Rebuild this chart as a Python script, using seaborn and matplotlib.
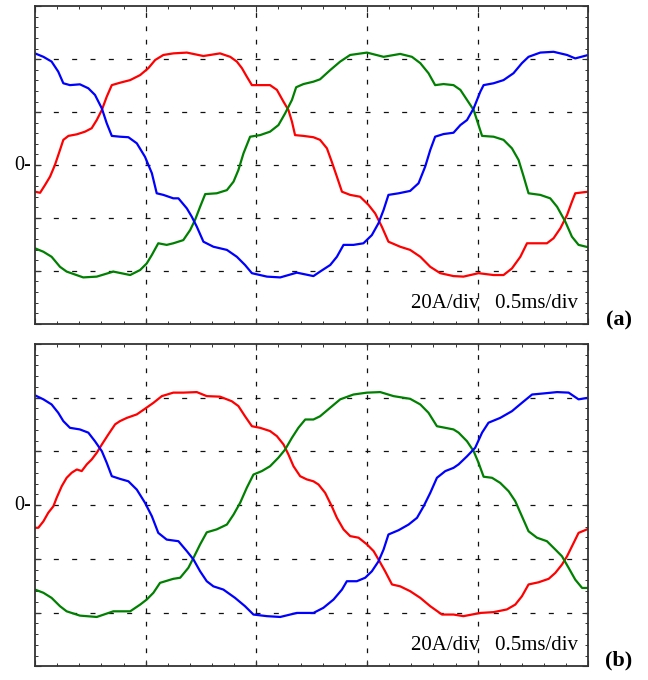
import numpy as np
import pandas as pd
import matplotlib
matplotlib.use("Agg")
import matplotlib.pyplot as plt
from matplotlib.ticker import MultipleLocator, NullFormatter
import seaborn as sns

# ---------------- data (time in ms, current in A) ----------------
TIME_DIV = 0.5      # ms / div
AMP_DIV = 20        # A / div

red_a = [(0, -10.1), (0.023, -10.5), (0.045, -7.6), (0.068, -4.4), (0.090, 0.0), (0.113, 5.7),
         (0.128, 9.5), (0.151, 11.0), (0.189, 11.6), (0.226, 12.6), (0.256, 13.9), (0.279, 17.0),
         (0.302, 20.8), (0.324, 25.8), (0.347, 30.2), (0.384, 31.1), (0.430, 32.1), (0.475, 34.0),
         (0.512, 36.6), (0.543, 39.7), (0.580, 41.6), (0.625, 42.2), (0.686, 42.5), (0.761, 41.2),
         (0.836, 42.2), (0.882, 40.9), (0.912, 39.1), (0.935, 36.6), (0.957, 33.4), (0.980, 30.2),
         (1.017, 30.2), (1.062, 30.2), (1.093, 28.4), (1.123, 23.9), (1.145, 20.8), (1.161, 16.4),
         (1.175, 11.3), (1.213, 11.0), (1.258, 10.5), (1.288, 9.5), (1.319, 6.3), (1.341, 1.2),
         (1.364, -4.4), (1.387, -10.1), (1.424, -11.3), (1.469, -12.0), (1.507, -15.1), (1.537, -18.3),
         (1.567, -23.3), (1.597, -29.0), (1.650, -30.9), (1.695, -32.1), (1.741, -34.7), (1.786, -38.5),
         (1.831, -40.9), (1.891, -42.0), (1.936, -42.2), (2.004, -40.9), (2.072, -41.6), (2.117, -41.6),
         (2.155, -39.1), (2.193, -34.7), (2.223, -29.6), (2.268, -29.6), (2.313, -29.6), (2.343, -27.7),
         (2.374, -23.9), (2.404, -18.9), (2.426, -13.9), (2.441, -10.7), (2.479, -10.3), (2.5, -10.1)]

blue_a = [(0, 42.2), (0.038, 40.9), (0.075, 39.1), (0.105, 35.3), (0.128, 30.9), (0.158, 30.2),
          (0.203, 30.5), (0.241, 29.0), (0.271, 26.5), (0.302, 21.4), (0.324, 15.8), (0.347, 11.0),
          (0.384, 10.7), (0.422, 10.5), (0.460, 8.2), (0.497, 3.1), (0.528, -3.1), (0.550, -10.7),
          (0.580, -11.3), (0.625, -12.6), (0.648, -12.6), (0.686, -16.4), (0.708, -19.5), (0.731, -23.3),
          (0.761, -29.0), (0.806, -30.9), (0.867, -32.1), (0.912, -34.7), (0.949, -37.8), (0.980, -40.9),
          (1.048, -42.2), (1.108, -42.5), (1.183, -40.7), (1.258, -42.0), (1.288, -40.3), (1.334, -37.8),
          (1.364, -34.7), (1.394, -30.2), (1.439, -30.2), (1.484, -29.6), (1.522, -26.5), (1.552, -22.0),
          (1.575, -17.0), (1.597, -11.3), (1.643, -10.7), (1.695, -9.8), (1.733, -6.9), (1.763, -0.6),
          (1.786, 5.7), (1.808, 10.7), (1.846, 11.7), (1.891, 12.2), (1.922, 15.1), (1.952, 17.0),
          (1.982, 21.4), (2.012, 27.7), (2.027, 30.2), (2.072, 30.9), (2.117, 32.1), (2.162, 34.7),
          (2.200, 38.5), (2.230, 40.9), (2.283, 42.5), (2.343, 42.8), (2.404, 41.6), (2.441, 40.3),
          (2.5, 41.6)]

green_a = [(0, -31.5), (0.038, -32.8), (0.075, -34.7), (0.113, -38.5), (0.143, -40.3), (0.218, -42.5),
           (0.279, -42.2), (0.354, -40.3), (0.430, -41.6), (0.475, -39.7), (0.505, -37.2), (0.528, -34.0),
           (0.557, -29.6), (0.595, -30.2), (0.625, -29.6), (0.670, -28.4), (0.701, -24.6), (0.723, -20.8),
           (0.746, -15.8), (0.769, -11.0), (0.821, -10.7), (0.867, -9.5), (0.897, -6.3), (0.919, -1.9),
           (0.942, 4.4), (0.972, 10.7), (1.017, 11.3), (1.062, 12.6), (1.100, 15.1), (1.130, 19.5),
           (1.161, 24.6), (1.180, 29.4), (1.213, 30.6), (1.258, 31.5), (1.288, 32.4), (1.334, 35.9),
           (1.379, 39.1), (1.424, 41.6), (1.500, 42.5), (1.575, 40.9), (1.650, 42.0), (1.703, 40.9),
           (1.741, 38.5), (1.778, 34.7), (1.808, 30.2), (1.846, 30.6), (1.891, 30.2), (1.922, 28.4),
           (1.952, 24.6), (1.982, 20.8), (2.004, 15.1), (2.020, 11.0), (2.072, 10.7), (2.117, 9.5),
           (2.155, 6.3), (2.185, 1.9), (2.208, -4.4), (2.230, -10.7), (2.283, -11.3), (2.328, -12.6),
           (2.359, -15.8), (2.396, -21.4), (2.426, -27.1), (2.456, -30.2), (2.5, -31.1)]

red_b = [(0, -8.4), (0.015, -8.4), (0.038, -6.0), (0.060, -2.8), (0.083, -0.4), (0.098, 2.8),
         (0.121, 7.1), (0.143, 10.2), (0.166, 12.1), (0.189, 13.3), (0.211, 12.7), (0.234, 15.2),
         (0.256, 17.0), (0.279, 19.5), (0.302, 22.6), (0.331, 26.3), (0.362, 30.1), (0.384, 31.3),
         (0.415, 32.5), (0.460, 33.8), (0.497, 35.9), (0.535, 38.1), (0.573, 40.6), (0.625, 41.9),
         (0.670, 41.9), (0.731, 42.1), (0.776, 40.6), (0.836, 40.4), (0.889, 38.7), (0.919, 36.9),
         (0.949, 33.1), (0.980, 29.4), (1.017, 28.8), (1.062, 27.6), (1.093, 25.7), (1.123, 22.6),
         (1.145, 18.9), (1.168, 14.5), (1.198, 10.8), (1.228, 9.6), (1.258, 8.9), (1.281, 7.7),
         (1.311, 4.6), (1.341, -0.4), (1.364, -4.7), (1.394, -9.0), (1.424, -11.5), (1.462, -12.1),
         (1.500, -14.6), (1.530, -17.1), (1.552, -20.2), (1.582, -24.6), (1.613, -29.5), (1.650, -30.2),
         (1.695, -32.0), (1.741, -34.5), (1.786, -37.6), (1.839, -40.7), (1.891, -40.7), (1.936, -41.3),
         (2.012, -40.1), (2.072, -39.8), (2.132, -38.8), (2.170, -37.0), (2.200, -33.9), (2.230, -29.5),
         (2.275, -28.7), (2.321, -27.4), (2.351, -25.2), (2.381, -22.1), (2.404, -19.0), (2.434, -14.0),
         (2.456, -10.3), (2.5, -8.8)]

blue_b = [(0, 40.9), (0.038, 39.4), (0.075, 37.5), (0.105, 34.4), (0.128, 31.3), (0.158, 28.8),
          (0.203, 28.2), (0.241, 27.0), (0.271, 23.8), (0.302, 20.1), (0.324, 15.8), (0.347, 10.8),
          (0.384, 9.8), (0.422, 8.9), (0.460, 5.8), (0.497, 0.9), (0.528, -4.1), (0.557, -10.3),
          (0.595, -12.8), (0.648, -13.4), (0.686, -17.1), (0.716, -20.2), (0.746, -24.6), (0.776, -28.3),
          (0.806, -30.2), (0.851, -31.4), (0.904, -34.5), (0.949, -37.6), (0.987, -40.7), (1.048, -41.3),
          (1.108, -41.6), (1.183, -40.1), (1.258, -40.1), (1.303, -38.2), (1.349, -35.1), (1.387, -31.4),
          (1.409, -28.3), (1.454, -28.3), (1.492, -27.0), (1.522, -24.6), (1.552, -20.9), (1.575, -16.5),
          (1.597, -10.9), (1.643, -9.3), (1.688, -7.2), (1.726, -4.7), (1.756, -0.4), (1.786, 4.6),
          (1.816, 10.2), (1.854, 12.7), (1.891, 13.9), (1.914, 15.2), (1.952, 18.2), (1.989, 21.4),
          (2.020, 27.0), (2.049, 30.7), (2.102, 32.5), (2.155, 35.0), (2.200, 38.1), (2.246, 41.2),
          (2.298, 41.6), (2.359, 42.1), (2.411, 41.9), (2.456, 39.4), (2.5, 40.0)]

green_b = [(0, -31.4), (0.038, -32.6), (0.075, -34.5), (0.113, -37.6), (0.143, -39.5), (0.203, -41.1),
           (0.279, -41.6), (0.354, -39.5), (0.430, -39.5), (0.475, -37.0), (0.505, -35.1), (0.535, -32.6),
           (0.565, -28.9), (0.625, -27.4), (0.656, -27.0), (0.693, -23.3), (0.716, -19.6), (0.746, -14.6),
           (0.776, -10.1), (0.821, -9.0), (0.867, -7.2), (0.897, -3.5), (0.927, 0.9), (0.957, 6.5),
           (0.987, 11.4), (1.025, 12.7), (1.062, 14.5), (1.100, 17.7), (1.130, 20.7), (1.161, 25.1),
           (1.190, 28.8), (1.221, 31.9), (1.258, 31.9), (1.288, 33.1), (1.334, 36.3), (1.379, 39.4),
           (1.439, 41.2), (1.500, 41.9), (1.560, 42.1), (1.620, 40.6), (1.695, 39.6), (1.741, 37.5),
           (1.778, 34.4), (1.816, 29.4), (1.854, 28.8), (1.891, 28.2), (1.914, 27.0), (1.952, 23.8),
           (1.982, 20.1), (2.004, 15.8), (2.027, 10.6), (2.065, 10.2), (2.102, 8.3), (2.140, 5.2),
           (2.170, 1.5), (2.200, -4.1), (2.230, -9.7), (2.268, -12.1), (2.313, -13.4), (2.351, -16.5),
           (2.381, -19.0), (2.411, -23.3), (2.441, -27.7), (2.472, -30.8), (2.5, -30.8)]

panels = {"(a)": {"ia": red_a, "ib": green_a, "ic": blue_a},
          "(b)": {"ia": red_b, "ib": green_b, "ic": blue_b}}
palette = {"ia": "#ff0000", "ib": "#008000", "ic": "#0000ff"}
scale_text = "20A/div   0.5ms/div"

# ---------------- style ----------------
sns.set_style("white")
plt.rcParams["font.family"] = ["Liberation Serif", "DejaVu Serif"]
plt.rcParams["lines.scale_dashes"] = False
plt.rcParams["text.color"] = "black"

fig = plt.figure(figsize=(6.48, 6.8), dpi=100)
ax_a = fig.add_axes([35 / 648, 1 - 323.7 / 680, 553.3 / 648, 317.4 / 680])
ax_b = fig.add_axes([35 / 648, 1 - 666.4 / 680, 553.3 / 648, 322.4 / 680])

label_y = [320, 660]
for ax, (label, series), ly in zip([ax_a, ax_b], panels.items(), label_y):
    frames = []
    for name, pts in series.items():
        d = pd.DataFrame(pts, columns=["t", "i"])
        d["phase"] = name
        frames.append(d)
    df = pd.concat(frames, ignore_index=True)
    sns.lineplot(data=df, x="t", y="i", hue="phase", palette=palette,
                 estimator=None, sort=False, legend=False, linewidth=1.6, ax=ax)

    ax.set_xlim(0, 5 * TIME_DIV)
    ax.set_ylim(-3 * AMP_DIV, 3 * AMP_DIV)

    # dashed oscilloscope grid
    for k in range(1, 5):
        ax.axvline(k * TIME_DIV, color="#111111", lw=0.9, zorder=0,
                   linestyle=(0, (3.4, 6.2)))
    for k in range(-2, 3):
        ax.axhline(k * AMP_DIV, color="#111111", lw=0.9, zorder=0,
                   linestyle=(0, (3.6, 9.6)))

    ax.xaxis.set_major_locator(MultipleLocator(TIME_DIV))
    ax.yaxis.set_major_locator(MultipleLocator(AMP_DIV))
    ax.xaxis.set_minor_locator(MultipleLocator(TIME_DIV / 5))
    ax.yaxis.set_minor_locator(MultipleLocator(AMP_DIV / 5))
    ax.xaxis.set_major_formatter(NullFormatter())
    ax.yaxis.set_major_formatter(NullFormatter())
    ax.tick_params(which="both", direction="in", top=True, right=True,
                   bottom=True, left=True, color="#333333")
    ax.tick_params(which="major", length=4, width=0.8)
    ax.tick_params(which="minor", length=2.5, width=0.7)
    ax.set_xlabel("")
    ax.set_ylabel("")
    for sp in ax.spines.values():
        sp.set_color("#333333")
        sp.set_linewidth(1.3)

    ax.text(-0.008, 0.5, "0-", transform=ax.transAxes, ha="right", va="center",
            fontsize=14.5, color="black")
    ax.text(0.982, 0.065, scale_text, transform=ax.transAxes, ha="right",
            va="center", fontsize=15, color="black")
    fig.text(619 / 648, 1 - ly / 680, label, ha="center", va="center",
             fontsize=16, fontweight="bold", color="black")

fig.savefig("out.png", dpi=100)
